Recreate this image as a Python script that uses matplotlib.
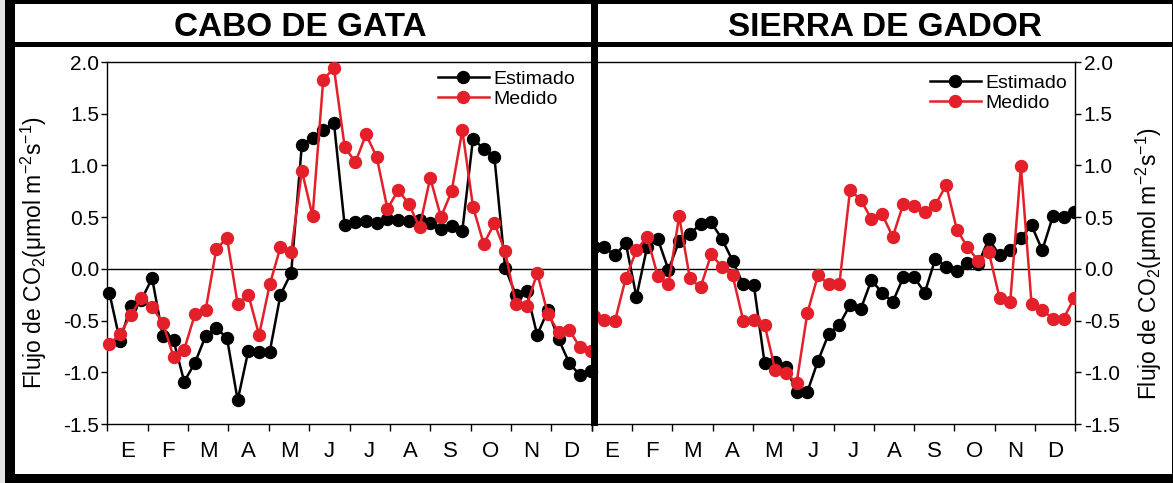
import numpy as np
import matplotlib
matplotlib.use("Agg")
import matplotlib.pyplot as plt
from matplotlib.patches import Rectangle

plt.rcParams['font.family'] = ['Liberation Sans', 'DejaVu Sans']
plt.rcParams['mathtext.fontset'] = 'custom'
plt.rcParams['mathtext.rm'] = 'Liberation Sans'
plt.rcParams['mathtext.it'] = 'Liberation Sans:italic'

# ---------------- data (8-day composites, 46 per year) ----------------
months = ['E', 'F', 'M', 'A', 'M', 'J', 'J', 'A', 'S', 'O', 'N', 'D']
titles = ['CABO DE GATA', 'SIERRA DE GADOR']
series_names = ['Estimado', 'Medido']

cabo_estimado = [-0.23, -0.70, -0.36, -0.30, -0.09, -0.65, -0.69, -1.09, -0.91, -0.65,
                 -0.57, -0.67, -1.27, -0.79, -0.80, -0.80, -0.25, -0.04, 1.20, 1.27,
                 1.34, 1.41, 0.42, 0.45, 0.46, 0.44, 0.48, 0.47, 0.46, 0.47,
                 0.44, 0.39, 0.41, 0.37, 1.26, 1.16, 1.08, 0.01, -0.25, -0.21,
                 -0.64, -0.40, -0.68, -0.91, -1.03, -0.99]
cabo_medido = [-0.73, -0.63, -0.45, -0.28, -0.37, -0.52, -0.85, -0.78, -0.44, -0.40,
               0.19, 0.30, -0.34, -0.25, -0.64, -0.15, 0.21, 0.16, 0.95, 0.51,
               1.83, 1.94, 1.18, 1.03, 1.30, 1.08, 0.58, 0.76, 0.63, 0.40,
               0.88, 0.50, 0.75, 1.34, 0.60, 0.24, 0.44, 0.17, -0.34, -0.36,
               -0.04, -0.44, -0.61, -0.59, -0.76, -0.79]
sierra_estimado = [0.21, 0.21, 0.13, 0.25, -0.27, 0.21, 0.29, -0.01, 0.27, 0.34,
                   0.43, 0.45, 0.29, 0.08, -0.15, -0.16, -0.91, -0.90, -0.95, -1.19,
                   -1.19, -0.89, -0.63, -0.54, -0.35, -0.39, -0.11, -0.23, -0.32, -0.08,
                   -0.08, -0.23, 0.10, 0.02, -0.02, 0.06, 0.05, 0.29, 0.13, 0.18,
                   0.30, 0.42, 0.18, 0.51, 0.50, 0.55]
sierra_medido = [-0.46, -0.49, -0.50, -0.09, 0.18, 0.31, -0.07, -0.15, 0.51, -0.09,
                 -0.18, 0.14, 0.02, -0.06, -0.50, -0.49, -0.54, -0.98, -1.01, -1.10,
                 -0.43, -0.06, -0.15, -0.15, 0.76, 0.67, 0.48, 0.53, 0.31, 0.63,
                 0.61, 0.55, 0.62, 0.81, 0.38, 0.21, 0.08, 0.16, -0.28, -0.32,
                 0.99, -0.34, -0.40, -0.48, -0.48, -0.28]

yticks = [-1.5, -1.0, -0.5, 0.0, 0.5, 1.0, 1.5, 2.0]

# ---------------- figure ----------------
W, H = 1173, 483
fig = plt.figure(figsize=(W / 100, H / 100), dpi=100)
fig.patch.set_facecolor('white')

def fx(px):
    return px / W

def fy(py):
    return 1 - py / H

RED = '#e3202a'
BLK = '#000000'

n = len(cabo_estimado)
step = 0.265
xpos = 0.05 + step * np.arange(n)  # position of each composite in months

ax_l = fig.add_axes([fx(107.3), fy(424), fx(591.7) - fx(107.3), fy(62) - fy(424)])
ax_r = fig.add_axes([fx(591.7), fy(424), fx(1075.3) - fx(591.7), fy(62) - fy(424)])

month_font = ['Liberation Sans Narrow', 'Liberation Sans', 'DejaVu Sans']

panels = [(ax_l, cabo_estimado, cabo_medido, False), (ax_r, sierra_estimado, sierra_medido, True)]
for ax, est, med, clip in panels:
    ax.axhline(0, color='black', lw=1.0, zorder=1)
    ax.plot(xpos, est, color=BLK, lw=1.8, marker='o', ms=8.6, mec=BLK, mfc=BLK,
            label=series_names[0], zorder=3, clip_on=clip)
    ax.plot(xpos, med, color=RED, lw=1.8, marker='o', ms=8.6, mec=RED, mfc=RED,
            label=series_names[1], zorder=4, clip_on=clip)
    ax.set_xlim(0, 12)
    ax.set_ylim(-1.5, 2.0)
    ax.set_yticks(yticks)
    ax.set_yticklabels([f'{v:.1f}' for v in yticks])
    ax.set_xticks(np.arange(0, 13))
    ax.set_xticklabels([])
    ax.set_xticks(np.arange(12) + 0.5, minor=True)
    ax.set_xticklabels(months, minor=True, family=month_font, fontsize=16)
    ax.tick_params(axis='x', which='major', direction='out', length=5, width=1)
    ax.tick_params(axis='x', which='minor', length=0, pad=12)
    ax.tick_params(axis='y', which='major', direction='out', length=4.5, width=1,
                   labelsize=15, pad=1.5)
    for s in ax.spines.values():
        s.set_linewidth(1.0)
    ax.set_facecolor('none')

ax_l.spines['right'].set_visible(False)
ax_r.spines['left'].set_visible(False)
ax_r.yaxis.tick_right()
ax_r.tick_params(axis='y', which='both', left=False, labelleft=False, right=True, labelright=True)

# legends
leg_kw = dict(frameon=False, fontsize=14, handlelength=2.6, handletextpad=0.25,
              labelspacing=0.12, borderpad=0, borderaxespad=0, loc='upper left',
              bbox_transform=fig.transFigure)
ax_l.legend(bbox_to_anchor=(fx(438), fy(70)), **leg_kw)
ax_r.legend(bbox_to_anchor=(fx(930), fy(74)), **leg_kw)

# axis labels
ylab = 'Flujo de CO$_2$(μmol m$^{-2}$s$^{-1}$)'
fig.text(fx(34), fy(253), ylab, rotation=90, ha='center', va='center', fontsize=16.5)
fig.text(fx(1149), fy(264), ylab, rotation=90, ha='center', va='center', fontsize=16.5)

# titles
fig.text(fx(300), fy(27), titles[0], ha='center', va='center', fontsize=24, fontweight='bold')
fig.text(fx(885), fy(27), titles[1], ha='center', va='center', fontsize=24, fontweight='bold')

# frame decorations
def rect(x0, y0, x1, y1, color):
    fig.patches.append(Rectangle((fx(x0), fy(y1)), fx(x1) - fx(x0), fy(y0) - fy(y1),
                                 transform=fig.transFigure, color=color, lw=0, zorder=10))

rect(0, 0, 5, H, '#e4e4e4')
rect(5, 0, 15, H, 'black')
rect(5, 0, W, 4, 'black')
rect(5, 42, W, 47, 'black')
rect(591, 0, 597.5, 426, 'black')
rect(15, 474, W, H, 'black')
rect(W - 1.5, 0, W, H, 'black')

fig.savefig('out.png', dpi=100)
